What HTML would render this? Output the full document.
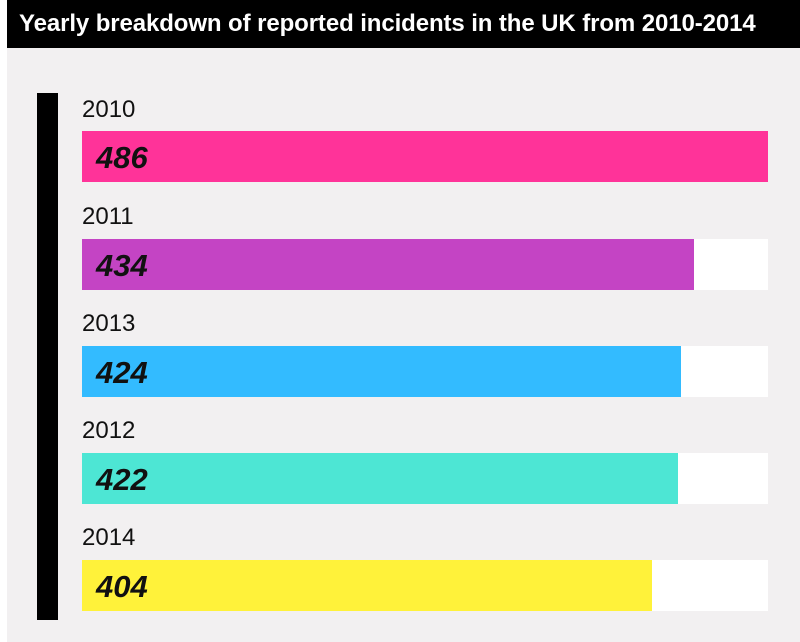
<!DOCTYPE html>
<html><head><style>
body{margin:0;width:800px;height:642px;background:#fff;position:relative;overflow:hidden;font-family:"Liberation Sans",sans-serif}
.hdr{position:absolute;left:7px;top:0;width:793px;height:48px;background:#000;color:#fff;font-weight:bold;font-size:24px;line-height:48px;padding-left:12px;box-sizing:border-box;letter-spacing:-0.1px;white-space:nowrap}
.bg{position:absolute;left:7px;top:48px;width:793px;height:594px;background:#f2f0f1}
.vbar{position:absolute;left:37px;top:93px;width:21px;height:527px;background:#000}
.lbl{position:absolute;left:82px;font-size:24px;color:#111}
.track{position:absolute;left:82px;width:686px;height:51px;background:#fff}
.fill{position:absolute;left:0;top:0;height:51px}
.num{position:absolute;left:14px;top:0;line-height:53px;font-size:31px;font-weight:bold;font-style:italic;color:#111}
</style></head><body>
<div class="hdr">Yearly breakdown of reported incidents in the UK from 2010-2014</div>
<div class="bg"></div>
<div class="vbar"></div>
<div class="lbl" style="top:96px">2010</div>
<div class="track" style="top:131px"><div class="fill" style="width:686px;background:#ff3399"></div><div class="num">486</div></div>
<div class="lbl" style="top:203px">2011</div>
<div class="track" style="top:239px"><div class="fill" style="width:612px;background:#c444c4"></div><div class="num">434</div></div>
<div class="lbl" style="top:310px">2013</div>
<div class="track" style="top:346px"><div class="fill" style="width:599px;background:#33bbff"></div><div class="num">424</div></div>
<div class="lbl" style="top:417px">2012</div>
<div class="track" style="top:453px"><div class="fill" style="width:596px;background:#4de6d4"></div><div class="num">422</div></div>
<div class="lbl" style="top:524px">2014</div>
<div class="track" style="top:560px"><div class="fill" style="width:570px;background:#fff23a"></div><div class="num">404</div></div>
</body></html>
